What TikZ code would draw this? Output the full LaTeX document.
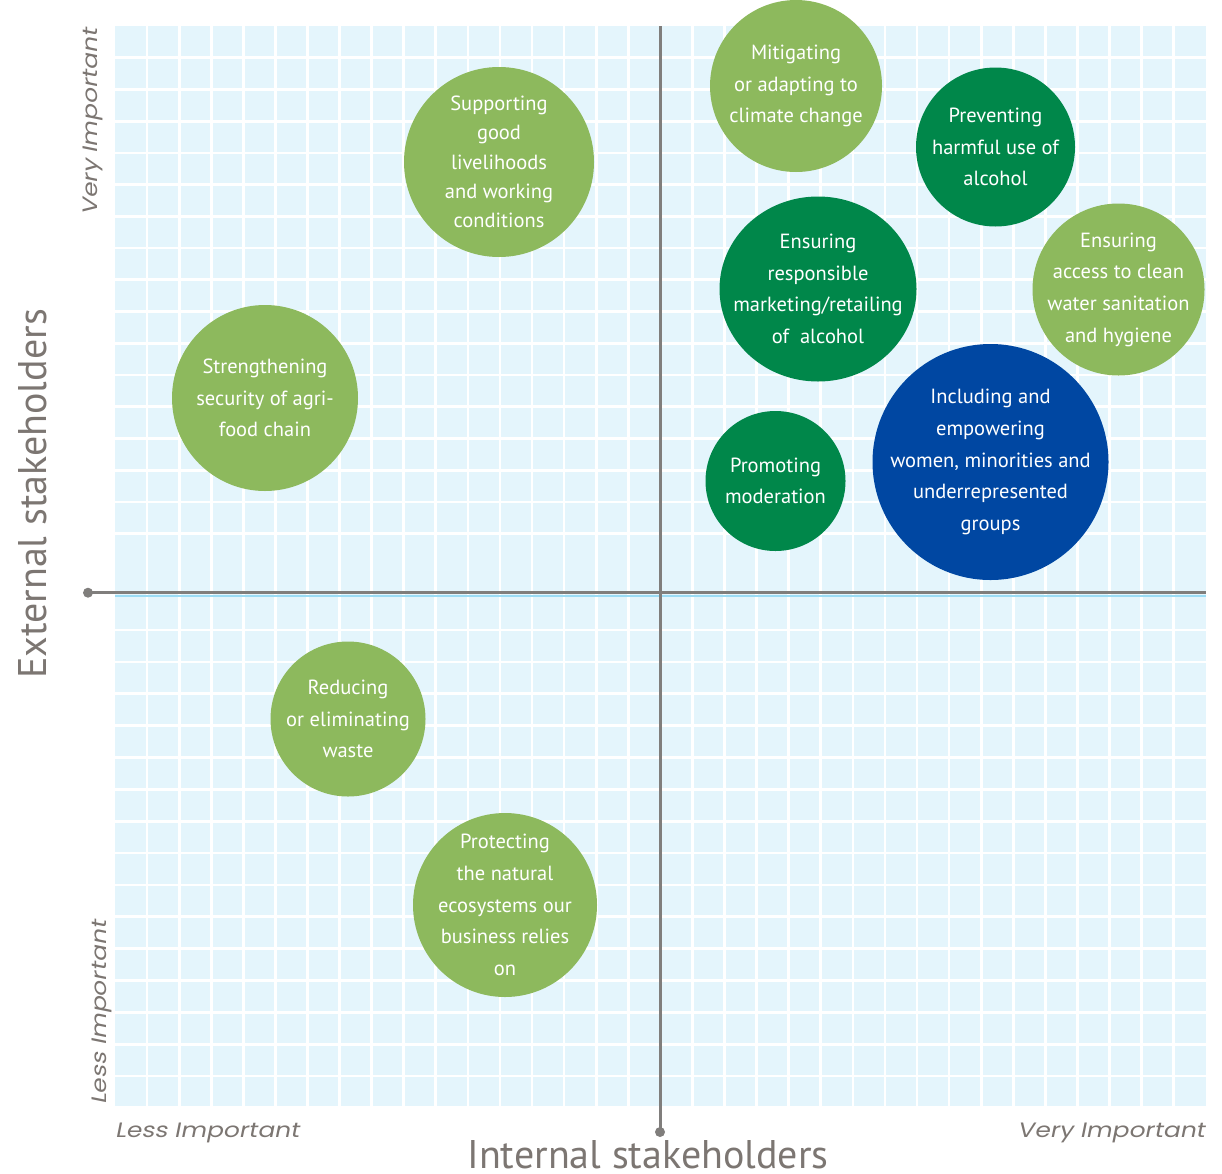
\documentclass[tikz,border=0pt]{standalone}
\usepackage{fontspec}
\setmainfont{PT Sans}
\newfontfamily\labelfont{Poppins}[AutoFakeSlant=0.2, FakeStretch=1.2]
\usepackage{tikz}
\usetikzlibrary{positioning, shapes.geometric}
\definecolor{gridBg}{RGB}{228, 245, 252}
\definecolor{axisGray}{RGB}{128, 126, 124}
\definecolor{textGray}{RGB}{124, 118, 114}
\definecolor{axisBlue}{RGB}{155, 220, 245}
\definecolor{leafGreen}{RGB}{141, 185, 93}
\definecolor{deepGreen}{RGB}{0, 135, 74}
\definecolor{deepBlue}{RGB}{0, 71, 162}

\begin{document}
\begin{tikzpicture}[
  x=1pt, y=-1pt,
  every node/.style={inner sep=0pt},
  bubble/.style={circle, inner sep=-40pt, text=white, align=center,
    font=\fontsize{20.5}{31.7}\selectfont},
  axisline/.style={draw=axisGray, line width=3pt},
  axisdot/.style={circle, fill=axisGray, minimum size=10pt},
  axistitle/.style={text=textGray, font=\fontsize{40}{44}\selectfont},
  scalelabel/.style={text=textGray, font=\labelfont\itshape\fontsize{20.8}{22}\selectfont}
]
\useasboundingbox (0,0) rectangle (1222,1173);

% grid background
\fill[gridBg] (115,26) rectangle (1205.7,1105.7);
\foreach \i in {1,...,33}
  \draw[white, line width=2.7pt] ({115+32.08*\i},26) -- ({115+32.08*\i},1105.7);
\foreach \j in {1,...,16}
  \draw[white, line width=2.7pt] (115,{26+31.73*\j}) -- (1205.7,{26+31.73*\j});
\foreach \j in {0,...,14}
  \draw[white, line width=2.7pt] (115,{630+31.86*\j}) -- (1205.7,{630+31.86*\j});
\draw[axisBlue, line width=2.2pt] (115,596) -- (1205.7,596);

% axes
\node[axisdot] (xdot) at (88,592.7) {};
\coordinate (xend) at (1205.7,592.7);
\node[axisdot] (ydot) at (660,1132) {};
\coordinate (ytop) at (660,26);
\draw[axisline] (xdot.center) -- (xend);
\draw[axisline] (ydot.center) -- (ytop);

% axis labels
\node[axistitle, rotate=90, anchor=base] (ext) at (46,494) {External stakeholders};
\node[axistitle, anchor=base] (int) at (648,1168) {Internal stakeholders};
\node[scalelabel, rotate=90, anchor=base east] (yhigh) at (97,28) {Very Important};
\node[scalelabel, rotate=90, anchor=base west] (ylow) at (106,1105) {Less Important};
\node[scalelabel, anchor=base west] (xlow) at (115,1137.5) {Less Important};
\node[scalelabel, anchor=base east] (xhigh) at (1205,1137.5) {Very Important};

% topics
\node[bubble, fill=leafGreen, minimum size=172pt] (climate) at (796,86)
  {Mitigating\\or adapting to\\climate change};
\node[bubble, fill=deepGreen, minimum size=159pt] (harm) at (995.5,147)
  {Preventing\\harmful use of\\alcohol};
\node[bubble, fill=leafGreen, minimum size=190pt,
  font=\fontsize{20.5}{29.3}\selectfont] (liveli) at (499,162)
  {Supporting\\good\\livelihoods\\and working\\conditions};
\fill[deepGreen] (818,289) ellipse [x radius=98.5, y radius=92.5];
\node[bubble] (market) at (818,289)
  {Ensuring\\responsible\\marketing/retailing\\of~~alcohol};
\node[bubble, fill=leafGreen, minimum size=172pt] (water) at (1118.5,289.5)
  {Ensuring\\access to clean\\water sanitation\\and hygiene};
\node[bubble, fill=leafGreen, minimum size=186pt] (agri) at (265,398)
  {Strengthening\\security of agri-\\food chain};
\node[bubble, fill=deepGreen, minimum size=140pt] (moder) at (775.5,481)
  {Promoting\\moderation};
\node[bubble, fill=deepBlue, minimum size=236pt] (incl) at (990.5,462)
  {Including and\\empowering\\women, minorities and\\underrepresented\\groups};
\node[bubble, fill=leafGreen, minimum size=155pt] (waste) at (348,719)
  {Reducing\\or eliminating\\waste};
\node[bubble, fill=leafGreen, minimum size=184pt] (eco) at (505,905)
  {Protecting\\the natural\\ecosystems our\\business relies\\on};
\end{tikzpicture}
\end{document}
